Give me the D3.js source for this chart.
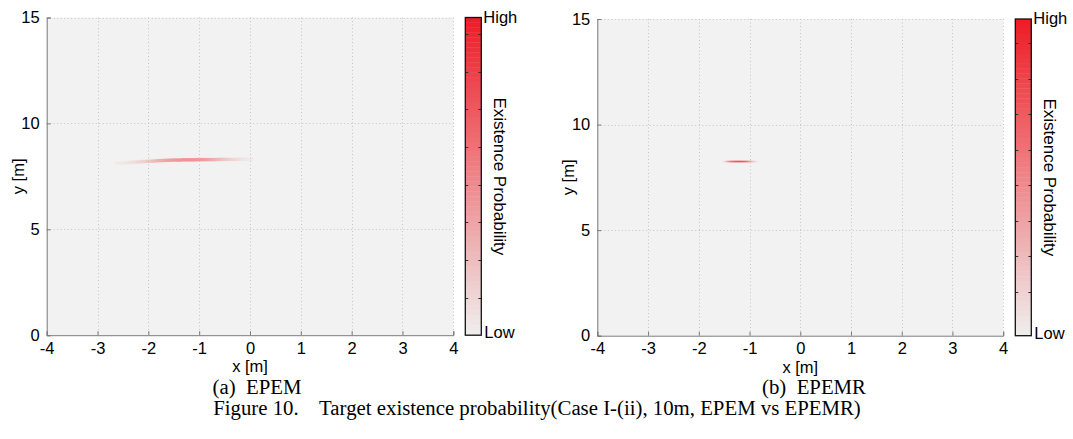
<!DOCTYPE html>
<html>
<head>
<meta charset="utf-8">
<script src="https://cdn.jsdelivr.net/npm/d3@7"></script>
<style>
body { margin: 0; background: #fff; }
svg text { font-family: "Liberation Sans", Arial, Helvetica, sans-serif; fill: #000; }
svg text.cap { font-family: "Liberation Serif", "Times New Roman", serif; white-space: pre; }
</style>
</head>
<body>
<svg id="fig" width="1073" height="439"></svg>
<script>
// axis ticks (both panels)
var xTicks = [-4, -3, -2, -1, 0, 1, 2, 3, 4];
var yTicks = [0, 5, 10, 15];

// colorbar ranges / tick marks (no labels, only High / Low)
var cbDomainA = [0, 0.844];
var cbTicksA = [0.1, 0.2, 0.3, 0.4, 0.5, 0.6, 0.7, 0.8];
var cbDomainB = [0.076, 0.968];
var cbTicksB = [0.2, 0.3, 0.4, 0.5, 0.6, 0.7, 0.8, 0.9];

// EPEM: the smeared target track (cells along x)
var epemX = [-2.6, -2.5, -2.4, -2.3, -2.2, -2.1, -2.0, -1.9, -1.8, -1.7, -1.6, -1.5, -1.4, -1.3,
             -1.2, -1.1, -1.0, -0.9, -0.8, -0.7, -0.6, -0.5, -0.4, -0.3, -0.2, -0.1, 0.0];
var epemY = [8.11, 8.13, 8.15, 8.17, 8.18, 8.20, 8.21, 8.22, 8.24, 8.25, 8.26, 8.27, 8.27, 8.28,
             8.28, 8.28, 8.29, 8.29, 8.29, 8.29, 8.30, 8.30, 8.30, 8.30, 8.31, 8.31, 8.31];
var epemP = [0.02, 0.03, 0.05, 0.07, 0.10, 0.13, 0.17, 0.21, 0.25, 0.29, 0.32, 0.35, 0.37, 0.38,
             0.38, 0.37, 0.35, 0.33, 0.29, 0.25, 0.21, 0.17, 0.13, 0.10, 0.07, 0.04, 0.02];

// EPEMR: short concentrated track
var epemrX = [-1.50, -1.45, -1.40, -1.35, -1.30, -1.25, -1.20, -1.15, -1.10, -1.05, -1.00, -0.95, -0.90, -0.85];
var epemrY = [8.25, 8.25, 8.25, 8.25, 8.25, 8.25, 8.25, 8.25, 8.25, 8.25, 8.25, 8.25, 8.25, 8.25];
var epemrP = [0.14, 0.32, 0.52, 0.64, 0.72, 0.75, 0.75, 0.73, 0.68, 0.60, 0.46, 0.31, 0.19, 0.10];

var subCaptions = ["(a)  EPEM", "(b)  EPEMR"];
var figCaption = "Figure 10.    Target existence probability(Case I-(ii), 10m, EPEM vs EPEMR)";

var svg = d3.select("#fig");

var defs = svg.append("defs");
defs.append("filter").attr("id", "soft")
    .attr("x", "-20%").attr("y", "-200%").attr("width", "140%").attr("height", "500%")
  .append("feGaussianBlur").attr("stdDeviation", "1.0 0.7");

function drawPanel(cfg)
{
    var g = svg.append("g");
    var x = d3.scaleLinear().domain([-4, 4]).range([cfg.left, cfg.right]);
    var y = d3.scaleLinear().domain([0, 15]).range([cfg.bottom, cfg.top]);
    var color = d3.scaleLinear().domain(cfg.cbDomain).range(["#efefee", "#ed1c24"]).clamp(true);

    var clipId = "clip_" + cfg.id;
    defs.append("clipPath").attr("id", clipId)
      .append("rect")
        .attr("x", cfg.left).attr("y", cfg.top)
        .attr("width", cfg.right - cfg.left).attr("height", cfg.bottom - cfg.top);

    // background = lowest probability
    g.append("rect")
        .attr("x", cfg.left).attr("y", cfg.top)
        .attr("width", cfg.right - cfg.left).attr("height", cfg.bottom - cfg.top)
        .attr("fill", "#f1f2f1");

    // track cells
    var cells = cfg.xs.map(function(d, i) { return { x: d, y: cfg.ys[i], p: cfg.ps[i] }; });
    g.append("g")
        .attr("clip-path", "url(#" + clipId + ")")
        .attr("filter", "url(#soft)")
      .selectAll("rect")
      .data(cells)
      .enter()
      .append("rect")
        .attr("x", function(d) { return x(d.x - cfg.cellW / 2); })
        .attr("y", function(d) { return y(d.y + cfg.cellH / 2); })
        .attr("width", function(d) { return x(d.x + cfg.cellW / 2) - x(d.x - cfg.cellW / 2) + 0.3; })
        .attr("height", function(d) { return y(d.y - cfg.cellH / 2) - y(d.y + cfg.cellH / 2); })
        .attr("fill", function(d) { return color(d.p); });

    // dotted grid
    var grid = g.append("g").attr("stroke", "#c4c4c4").attr("stroke-width", 1).attr("stroke-dasharray", "1,2.5");
    grid.selectAll("line.gx")
      .data(xTicks.filter(function(d) { return d > -4; }))
      .enter().append("line")
        .attr("x1", function(d) { return Math.round(x(d)) + 0.5; })
        .attr("x2", function(d) { return Math.round(x(d)) + 0.5; })
        .attr("y1", cfg.top).attr("y2", cfg.bottom);
    grid.selectAll("line.gy")
      .data(yTicks.filter(function(d) { return d > 0; }))
      .enter().append("line")
        .attr("y1", function(d) { return Math.round(y(d)) + 0.5; })
        .attr("y2", function(d) { return Math.round(y(d)) + 0.5; })
        .attr("x1", cfg.left).attr("x2", cfg.right);

    // axes (ticks inward, like matlab)
    var xAxis = d3.axisBottom(x).tickValues(xTicks).tickSize(-4).tickPadding(7).tickFormat(d3.format("d"));
    var yAxis = d3.axisLeft(y).tickValues(yTicks).tickSize(-4).tickPadding(7).tickFormat(d3.format("d"));

    var gx = g.append("g").attr("transform", "translate(0," + cfg.bottom + ")").call(xAxis);
    var gy = g.append("g").attr("transform", "translate(" + cfg.left + ",0)").call(yAxis);
    [gx, gy].forEach(function(a) {
        a.select(".domain").attr("stroke", "#7a7a7a");
        a.selectAll(".tick line").attr("stroke", "#7a7a7a");
        a.selectAll("text").attr("font-size", "16.5px").attr("font-family", "Liberation Sans, Arial, sans-serif").attr("fill", "#000");
    });
    gx.selectAll(".tick text").text(function(d) { return d < 0 ? "-" + Math.abs(d) : d; });

    g.append("text")
        .attr("x", (cfg.left + cfg.right) / 2).attr("y", cfg.bottom + 37)
        .attr("text-anchor", "middle").attr("font-size", "16.5px")
        .text("x [m]");
    g.append("text")
        .attr("transform", "translate(" + (cfg.left - 23) + "," + ((cfg.top + cfg.bottom) / 2) + ") rotate(-90)")
        .attr("text-anchor", "middle").attr("font-size", "16.5px")
        .text("y [m]");

    // colorbar
    var cb = d3.scaleLinear().domain(cfg.cbDomain).range([cfg.bottom, cfg.top]);
    var nBands = 64;
    var span = cfg.cbDomain[1] - cfg.cbDomain[0];
    var bands = d3.range(nBands).map(function(i) { return cfg.cbDomain[0] + span * i / nBands; });
    g.append("g").selectAll("rect")
      .data(bands)
      .enter().append("rect")
        .attr("x", cfg.cbLeft).attr("width", cfg.cbRight - cfg.cbLeft)
        .attr("y", function(d) { return cb(d + span / nBands); })
        .attr("height", function(d) { return cb(d) - cb(d + span / nBands) + 0.4; })
        .attr("fill", function(d) { return color(d + span / nBands / 2); });

    var cbTk = g.append("g").attr("stroke", "#333").attr("stroke-width", 1);
    cbTk.selectAll("line.l").data(cfg.cbTicks).enter().append("line")
        .attr("x1", cfg.cbLeft).attr("x2", cfg.cbLeft + 3)
        .attr("y1", function(d) { return Math.round(cb(d)) + 0.5; })
        .attr("y2", function(d) { return Math.round(cb(d)) + 0.5; });
    cbTk.selectAll("line.r").data(cfg.cbTicks).enter().append("line")
        .attr("x1", cfg.cbRight - 3).attr("x2", cfg.cbRight)
        .attr("y1", function(d) { return Math.round(cb(d)) + 0.5; })
        .attr("y2", function(d) { return Math.round(cb(d)) + 0.5; });

    g.append("rect")
        .attr("x", cfg.cbLeft).attr("y", cfg.top)
        .attr("width", cfg.cbRight - cfg.cbLeft).attr("height", cfg.bottom - cfg.top)
        .attr("fill", "none").attr("stroke", "#111").attr("stroke-width", 1.3);

    g.append("text")
        .attr("x", cfg.cbRight + 2).attr("y", cfg.top + 5)
        .attr("font-size", "16.5px")
        .text("High");
    g.append("text")
        .attr("x", cfg.cbRight + 3).attr("y", cfg.bottom + 3)
        .attr("font-size", "16.5px")
        .text("Low");
    g.append("text")
        .attr("transform", "translate(" + (cfg.cbRight + 13) + "," + ((cfg.top + cfg.bottom) / 2) + ") rotate(90)")
        .attr("text-anchor", "middle").attr("font-size", "17px")
        .text("Existence Probability");

    svg.append("text").attr("class", "cap")
        .attr("x", cfg.capX).attr("y", 394)
        .attr("text-anchor", "middle").attr("font-size", "20.8px")
        .text(cfg.caption);
}

drawPanel({
    id: "a", left: 46.7, right: 453.3, top: 17.5, bottom: 335.2,
    cbLeft: 465.3, cbRight: 481.3, cbDomain: cbDomainA, cbTicks: cbTicksA,
    xs: epemX, ys: epemY, ps: epemP, cellW: 0.1, cellH: 0.16,
    caption: subCaptions[0], capX: 257
});
drawPanel({
    id: "b", left: 597.3, right: 1003.2, top: 19, bottom: 335.7,
    cbLeft: 1015.3, cbRight: 1031.3, cbDomain: cbDomainB, cbTicks: cbTicksB,
    xs: epemrX, ys: epemrY, ps: epemrP, cellW: 0.05, cellH: 0.08,
    caption: subCaptions[1], capX: 814
});

svg.append("text").attr("class", "cap")
    .attr("x", 537).attr("y", 415)
    .attr("text-anchor", "middle").attr("font-size", "20.8px")
    .text(figCaption);
</script>
</body>
</html>
